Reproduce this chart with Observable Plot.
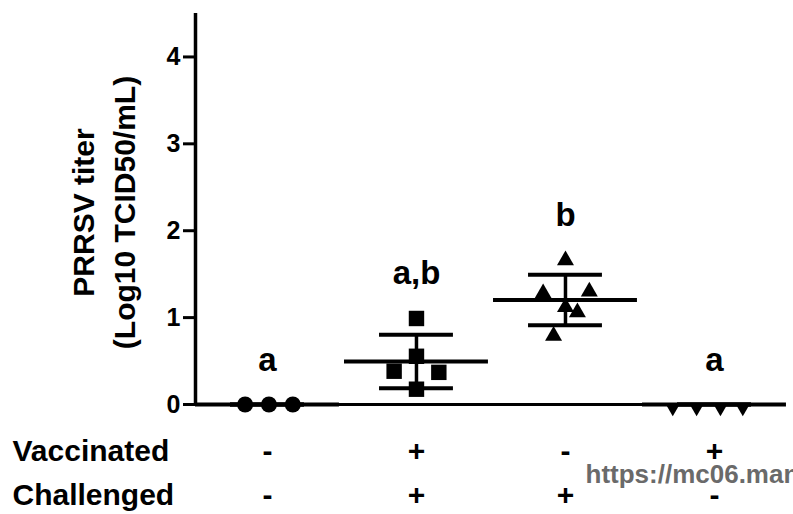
<!DOCTYPE html>
<html><head><meta charset="utf-8">
<script src="https://cdn.jsdelivr.net/npm/d3@7"></script>
<script src="https://cdn.jsdelivr.net/npm/@observablehq/plot@0.6"></script>
<style>
body{margin:0;background:#fff;}
#chart{width:793px;height:514px;overflow:hidden;}
</style>
</head><body><div id="chart"></div>
<script>
// ---- data ----
const groups = [1, 2, 3, 4];
const letters = ["a", "a,b", "b", "a"];
const vaccinated = ["-", "+", "-", "+"];
const challenged = ["-", "+", "+", "-"];
const rowLabels = ["Vaccinated", "Challenged"];
const yTicks = [0, 1, 2, 3, 4];
const yLabel = ["PRRSV titer", "(Log10 TCID50/mL)"];
const watermark = "https://mc06.manuscriptcentral.com";

// individual animals (x = group position incl. scatter spread, y = titer)
const g1x = [0.85, 1.01, 1.17];              const g1y = [0, 0, 0];
const g2x = [2.0, 2.0, 1.85, 2.15, 2.0];     const g2y = [0.99, 0.555, 0.383, 0.37, 0.176];
const g3x = [3.0, 2.85, 3.16, 3.0, 3.08, 2.92]; const g3y = [1.66, 1.28, 1.30, 1.12, 1.06, 0.79];
const g4x = [3.72, 3.88, 4.04, 4.19];        const g4y = [0, 0, 0, 0];

// ---- build tables ----
const pts = (xs, ys, g) => xs.map((x, i) => ({g, x, y: ys[i]}));
const p1 = pts(g1x, g1y, 1), p2 = pts(g2x, g2y, 2), p3 = pts(g3x, g3y, 3), p4 = pts(g4x, g4y, 4);
const allY = [g1y, g2y, g3y, g4y];
const stats = groups.map((g, i) => {
  const ys = allY[i];
  return {g, mean: d3.mean(ys), sd: ys.length > 1 ? (d3.deviation(ys) || 0) : 0, max: d3.max(ys), letter: letters[i]};
});
const signs = groups.map((g, i) => ({g, t: vaccinated[i] + "\n" + challenged[i]}));

const xDomain = [0.517, 4.443];
const font = "'Liberation Sans', Arial, Helvetica, sans-serif";

const chart = Plot.plot({
  width: 793, height: 514,
  marginTop: 13, marginBottom: 110, marginLeft: 195, marginRight: 13,
  x: {type: "linear", domain: xDomain, axis: null},
  y: {domain: [0, 4.5], axis: null},
  style: {fontFamily: font, fontWeight: "bold", color: "black", background: "white"},
  marks: [
    Plot.axisY(yTicks, {tickSize: 12, tickPadding: 3, fontSize: 25, strokeWidth: 3, label: null, fontWeight: "bold", tickFormat: d3.format("d")}),
    Plot.ruleX([xDomain[0]], {strokeWidth: 3.5, stroke: "black"}),
    Plot.ruleY([0], {strokeWidth: 3, stroke: "black"}),
    // mean and SD
    Plot.ruleY(stats, {y: "mean", x1: d => d.g - 0.483, x2: d => d.g + 0.483, strokeWidth: 4}),
    Plot.ruleY(stats, {y: d => d.mean + d.sd, x1: d => d.g - 0.248, x2: d => d.g + 0.248, strokeWidth: 4}),
    Plot.ruleY(stats, {y: d => d.mean - d.sd, x1: d => d.g - 0.248, x2: d => d.g + 0.248, strokeWidth: 4}),
    Plot.ruleX(stats, {x: "g", y1: d => d.mean - d.sd, y2: d => d.mean + d.sd, strokeWidth: 3.5}),
    // animals
    Plot.dot(p1, {x: "x", y: "y", r: 8, symbol: "circle", fill: "black"}),
    Plot.dot(p2, {x: "x", y: "y", r: 8.7, symbol: "square", fill: "black"}),
    Plot.dot(p3, {x: "x", y: "y", r: 6.3, symbol: "triangle", fill: "black"}),
    Plot.dot(p4, {x: "x", y: "y", r: 5.6, symbol: "triangle", rotate: 180, dy: 3, fill: "black"}),
    // significance letters
    Plot.text(stats, {x: "g", y: "max", text: "letter", lineAnchor: "bottom", dy: -34, fontSize: 33, fontWeight: "bold"}),
    // y label
    Plot.text([yLabel.join("\n")], {frameAnchor: "left", textAnchor: "middle", rotate: -90, lineAnchor: "middle", lineHeight: 1.37, fontSize: 30, fontWeight: "bold", dx: -94.5, dy: 3.5}),
    // treatment table
    Plot.text(signs, {x: "g", text: "t", frameAnchor: "bottom", lineAnchor: "top", lineHeight: 1.45, fontSize: 30, fontWeight: "bold", dy: 26}),
    Plot.text([rowLabels.join("\n")], {frameAnchor: "bottom-left", textAnchor: "start", lineAnchor: "top", lineHeight: 1.45, fontSize: 30, fontWeight: "bold", dx: -183, dy: 26}),
    // watermark
    Plot.text([watermark], {frameAnchor: "bottom-left", textAnchor: "start", lineAnchor: "bottom", dx: 390, dy: 78, fontSize: 26, fontWeight: "bold", fill: "#6a6a6a"})
  ]
});
document.getElementById("chart").appendChild(chart);
</script>
</body></html>
